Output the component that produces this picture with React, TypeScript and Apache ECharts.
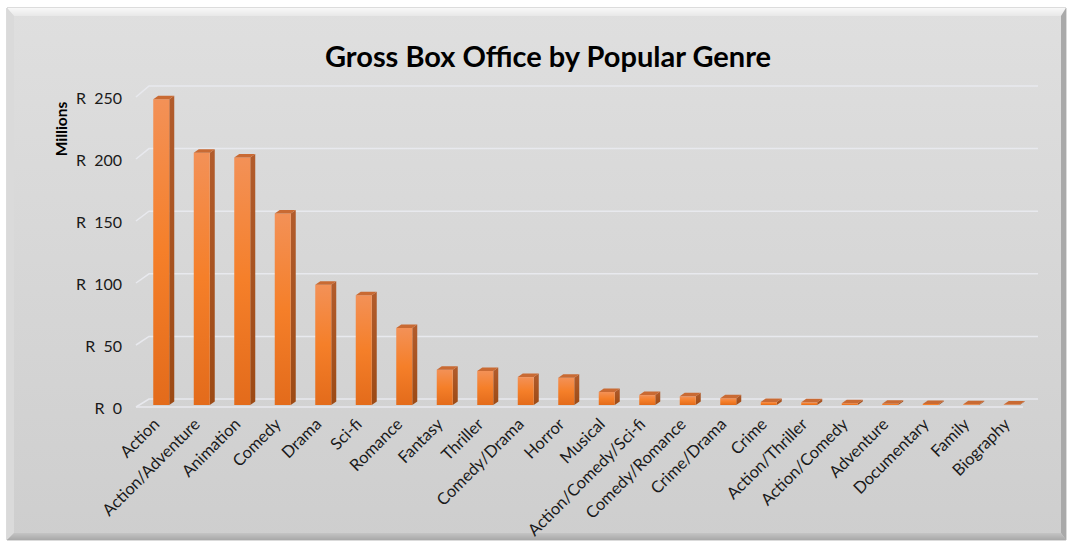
import React, { useEffect, useRef } from "react";
import * as echarts from "echarts";

const titleText = "Gross Box Office by Popular Genre";
const axisName = "Millions";
const categories = [
  "Action", "Action/Adventure", "Animation", "Comedy", "Drama", "Sci-fi", "Romance",
  "Fantasy", "Thriller", "Comedy/Drama", "Horror", "Musical", "Action/Comedy/Sci-fi",
  "Comedy/Romance", "Crime/Drama", "Crime", "Action/Thriller", "Action/Comedy",
  "Adventure", "Documentary", "Family", "Biography",
];
const grossMillions = [
  246.5, 203.5, 199.5, 154.5, 97, 88.5, 62, 28.5, 27.5, 22.5, 22, 10.5, 8, 7, 5.5,
  2.5, 2.2, 1.5, 1.0, 0.8, 0.6, 0.4,
];
const yTicks = [0, 50, 100, 150, 200, 250];

const FONT = "Lato, 'Open Sans', sans-serif";

export default function App() {
  const ref = useRef<HTMLDivElement>(null);
  useEffect(() => {
    if (!ref.current) return;
    const chart = echarts.init(ref.current, undefined, { renderer: "svg" });
    const frontGrad = () =>
      new echarts.graphic.LinearGradient(0, 0, 0, 1, [
        { offset: 0, color: "#f39157" },
        { offset: 0.5, color: "#f57f29" },
        { offset: 1, color: "#e36b1b" },
      ]);
    const sideGrad = () =>
      new echarts.graphic.LinearGradient(0, 0, 0, 1, [
        { offset: 0, color: "#b25c2c" },
        { offset: 1, color: "#9c4a15" },
      ]);
    const option: any = {
      animation: false,
      grid: { left: 136, right: 42, top: 97, bottom: 139, containLabel: false },
      xAxis: {
        type: "category",
        data: categories,
        axisLine: { show: false },
        axisTick: { show: false },
        axisLabel: {
          rotate: 45,
          interval: 0,
          margin: 14,
          fontFamily: FONT,
          fontSize: 16.5,
          color: "#1a1a1a",
        },
      },
      yAxis: {
        type: "value",
        min: 0,
        max: 250,
        interval: 50,
        axisLine: { show: false },
        axisTick: { show: false },
        splitLine: { show: false },
        axisLabel: {
          margin: 14,
          fontFamily: FONT,
          fontSize: 16,
          color: "#1a1a1a",
          formatter: (v: number) => "R\u00a0\u00a0" + v,
        },
      },
      graphic: [
        {
          type: "rect",
          z: 0,
          shape: { x: 7, y: 8, width: 1059, height: 532 },
          style: {
            fill: new echarts.graphic.LinearGradient(0, 0, 0, 1, [
              { offset: 0, color: "#dfdfdf" },
              { offset: 1, color: "#cecece" },
            ]),
            stroke: "#b8b8b8",
            lineWidth: 1,
          },
        },
        {
          type: "polygon",
          z: 0,
          shape: { points: [[7, 8], [1066, 8], [1061, 16], [14, 16]] },
          style: {
            fill: new echarts.graphic.LinearGradient(0, 0, 0, 1, [
              { offset: 0, color: "#f8f8f8" },
              { offset: 1, color: "#e8e8e8" },
            ]),
          },
        },
        {
          type: "polygon",
          z: 0,
          shape: { points: [[7, 8], [14, 16], [14, 533], [7, 540]] },
          style: { fill: "#dadada" },
        },
        {
          type: "polygon",
          z: 0,
          shape: { points: [[1066, 8], [1066, 540], [1061, 533], [1061, 16]] },
          style: { fill: "#a9a9a9" },
        },
        {
          type: "polygon",
          z: 0,
          shape: { points: [[7, 540], [14, 533], [1061, 533], [1066, 540]] },
          style: {
            fill: new echarts.graphic.LinearGradient(0, 0, 0, 1, [
              { offset: 0, color: "#c4c4c4" },
              { offset: 1, color: "#a8a8a8" },
            ]),
          },
        },
        {
          type: "text",
          z: 10,
          x: 548,
          y: 55,
          style: {
            text: titleText,
            fontFamily: FONT,
            fontWeight: "bold",
            fontSize: 29,
            fill: "#000",
            align: "center",
            verticalAlign: "middle",
          },
        },
        {
          type: "text",
          z: 10,
          x: 61,
          y: 129,
          rotation: Math.PI / 2,
          style: {
            text: axisName,
            fontFamily: FONT,
            fontWeight: "bold",
            fontSize: 15.5,
            fill: "#000",
            align: "center",
            verticalAlign: "middle",
          },
        },
      ],
      series: [
        {
          type: "custom",
          name: "grid",
          z: 1,
          silent: true,
          data: yTicks.map((v) => [0, v]),
          renderItem: (params: any, api: any) => {
            const cs = params.coordSys;
            const v = api.value(1);
            const y = api.coord([0, v])[1];
            const x0 = cs.x;
            const x1 = cs.x + cs.width;
            const dy = -8 - (v / 250) * 3;
            const children: any[] = [
              {
                type: "polyline",
                shape: { points: [[x0, y], [x0 + 13, y + dy], [x1 + 11, y + dy]] },
                style: { stroke: "#e8e9ee", lineWidth: 1.5, fill: "none" },
              },
            ];
            if (v === 0) {
              children.push({
                type: "line",
                shape: { x1: x0, y1: y, x2: x1 - 4, y2: y },
                style: { stroke: "#e8e9ee", lineWidth: 1.5 },
              });
            }
            return { type: "group", children };
          },
        },
        {
          type: "custom",
          name: "Gross",
          z: 2,
          data: grossMillions.map((v, i) => [i, v]),
          renderItem: (params: any, api: any) => {
            const i = api.value(0);
            const v = api.value(1);
            const top = api.coord([i, v]);
            const base = api.coord([i, 0]);
            const ox = 5, oy = -2, w = 16, dx = 5, dy = -3.5;
            const xl = top[0] + ox - w / 2;
            const xr = xl + w;
            const yt = top[1] + oy;
            const yb = base[1] + oy;
            return {
              type: "group",
              children: [
                {
                  type: "polygon",
                  shape: { points: [[xr, yt], [xr + dx, yt + dy], [xr + dx, yb + dy], [xr, yb]] },
                  style: { fill: sideGrad() },
                },
                {
                  type: "rect",
                  shape: { x: xl, y: yt, width: w, height: Math.max(yb - yt, 0.5) },
                  style: { fill: frontGrad() },
                },
                {
                  type: "polygon",
                  shape: { points: [[xl, yt], [xl + dx, yt + dy], [xr + dx, yt + dy], [xr, yt]] },
                  style: { fill: "#c96a33" },
                },
              ],
            };
          },
        },
      ],
    };
    chart.setOption(option);
    return () => chart.dispose();
  }, []);
  return (
    <div
      ref={ref}
      style={{ position: "fixed", left: 0, top: 0, width: 1069, height: 546, background: "#fff" }}
    />
  );
}
